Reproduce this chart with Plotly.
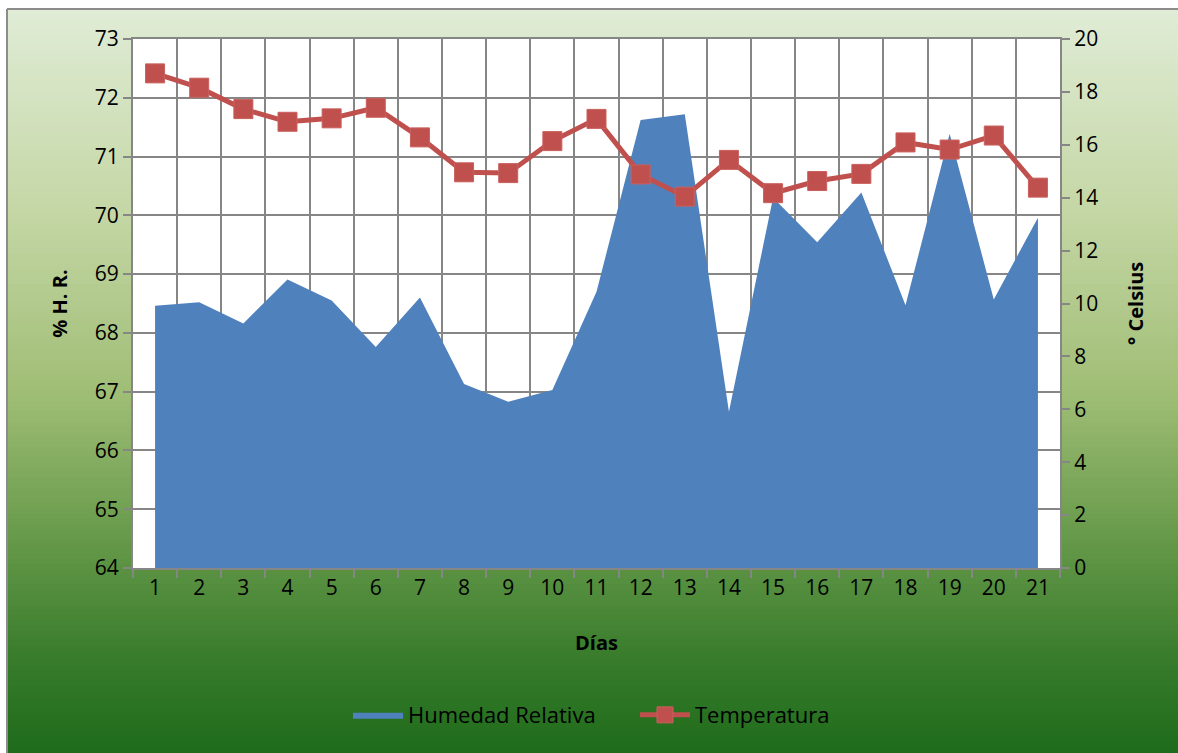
import plotly.graph_objects as go

# Daily readings
dias = [str(d) for d in range(1, 22)]
humedad = [68.46, 68.52, 68.16, 68.91, 68.55, 67.76, 68.60, 67.13, 66.83, 67.03,
           68.70, 71.62, 71.72, 66.66, 70.30, 69.54, 70.39, 68.47, 71.39, 68.57, 69.96]
temperatura = [18.70, 18.16, 17.35, 16.87, 17.00, 17.40, 16.28, 14.96, 14.93, 16.14,
               16.98, 14.88, 14.04, 15.43, 14.17, 14.63, 14.90, 16.09, 15.82, 16.35, 14.38]

hr_ticks = list(range(64, 74))
temp_ticks = list(range(0, 21, 2))

W, H = 1178, 753
L, R, T, B = 133, 118, 39, 185
PW, PH = W - L - R, H - T - B

def px_x(x):
    return (x - L) / PW

def px_y(y):
    return (H - B - y) / PH

GRID = "#868686"
FONT = "Open Sans"
TICK_SIZE = 21
TITLE_SIZE = 20

fig = go.Figure()

fig.add_trace(go.Scatter(
    x=dias, y=humedad, name="Humedad Relativa",
    mode="lines", fill="tozeroy", fillcolor="#4f81bd",
    line=dict(color="#4f81bd", width=0),
    yaxis="y",
))
fig.add_trace(go.Scatter(
    x=dias, y=temperatura, name="Temperatura",
    mode="lines+markers",
    line=dict(color="#c0504d", width=5),
    marker=dict(symbol="square", size=19, color="#c0504d",
                line=dict(color="#c9605d", width=1)),
    yaxis="y2",
))

# vertical gradient behind the chart, built from thin bands
stops = [(0.0, (224, 236, 214)), (0.25, (198, 216, 168)), (0.5, (160, 190, 118)),
         (0.7, (100, 152, 72)), (0.85, (56, 124, 44)), (1.0, (24, 104, 24))]

def grad(t):
    for (t0, c0), (t1, c1) in zip(stops[:-1], stops[1:]):
        if t <= t1:
            f = (t - t0) / (t1 - t0) if t1 > t0 else 0
            return tuple(round(a + (b - a) * f) for a, b in zip(c0, c1))
    return stops[-1][1]

shapes = []
top, bottom = 9, H + 20
n = 150
step = (bottom - top) / n
for i in range(n):
    y0 = top + i * step
    y1 = y0 + step + 0.8
    c = grad((i + 0.5) / n)
    shapes.append(dict(type="rect", xref="paper", yref="paper", layer="below",
                       x0=px_x(7), x1=px_x(W + 30), y0=px_y(y1), y1=px_y(y0),
                       fillcolor="rgb(%d,%d,%d)" % c, line=dict(width=0)))
# chart border: top and left edges
shapes.append(dict(type="line", xref="paper", yref="paper", layer="below",
                   x0=px_x(7), x1=px_x(W + 30), y0=px_y(9), y1=px_y(9),
                   line=dict(color="#8c8c8c", width=2)))
shapes.append(dict(type="line", xref="paper", yref="paper", layer="below",
                   x0=px_x(7), x1=px_x(7), y0=px_y(9), y1=px_y(H + 30),
                   line=dict(color="#8c8c8c", width=2)))
# white plot area
shapes.append(dict(type="rect", xref="paper", yref="paper", layer="below",
                   x0=0, x1=1, y0=0, y1=1, fillcolor="white", line=dict(width=0)))

fig.update_layout(
    width=W, height=H,
    margin=dict(l=L, r=R, t=T, b=B),
    paper_bgcolor="white",
    plot_bgcolor="white",
    font=dict(family=FONT, size=TICK_SIZE, color="black"),
    shapes=shapes,
    showlegend=True,
    legend=dict(orientation="h", x=px_x(348), xanchor="left", y=-0.278, yanchor="middle",
                bgcolor="rgba(0,0,0,0)", font=dict(size=22), itemwidth=50,
                entrywidth=222, traceorder="normal"),
    xaxis=dict(
        type="category", range=[-0.5, 20.5], tickson="boundaries",
        ticks="outside", ticklen=8, tickwidth=2, tickcolor=GRID,
        showgrid=True, gridcolor=GRID, gridwidth=2,
        showline=True, linecolor=GRID, linewidth=2, mirror=True,
        title=dict(text="<b>Días</b>", font=dict(size=TITLE_SIZE), standoff=36),
    ),
    yaxis=dict(
        range=[64, 73], tickvals=hr_ticks,
        ticks="outside", ticklen=8, tickwidth=2, tickcolor=GRID,
        showgrid=True, gridcolor=GRID, gridwidth=2,
        showline=True, linecolor=GRID, linewidth=2,
        zeroline=False,
        title=dict(text="<b>% H. R.</b>", font=dict(size=TITLE_SIZE), standoff=22),
    ),
    yaxis2=dict(
        range=[0, 20], tickvals=temp_ticks, overlaying="y", side="right",
        ticks="outside", ticklen=8, tickwidth=2, tickcolor=GRID,
        showgrid=False, zeroline=False,
        showline=True, linecolor=GRID, linewidth=2,
        title=dict(text="<b>° Celsius</b>", font=dict(size=TITLE_SIZE), standoff=32),
    ),
)

fig.write_html("out.html")
